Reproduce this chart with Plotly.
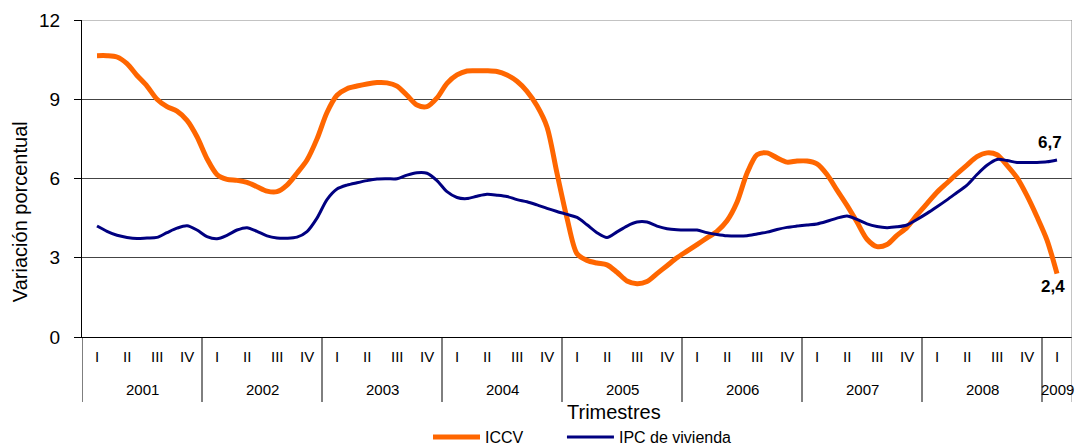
import plotly.graph_objects as go

# Monthly observations (Jan 2001 .. Jan 2009), percent
iccv = [10.65, 10.65, 10.6, 10.35, 9.9, 9.5, 9.0, 8.72, 8.55, 8.2, 7.58, 6.75,
        6.15, 5.97, 5.93, 5.85, 5.69, 5.52, 5.5, 5.75, 6.2, 6.7, 7.5, 8.5,
        9.15, 9.4, 9.5, 9.58, 9.63, 9.62, 9.5, 9.15, 8.78, 8.72, 9.05, 9.6,
        9.92, 10.07, 10.08, 10.08, 10.05, 9.92, 9.68, 9.3, 8.75, 7.95, 6.2, 4.5,
        3.15, 2.9, 2.8, 2.73, 2.45, 2.12, 2.02, 2.1, 2.4, 2.7, 3.0, 3.25,
        3.5, 3.75, 4.0, 4.4, 5.1, 6.2, 6.9, 6.97, 6.78, 6.62, 6.66, 6.66,
        6.55, 6.15, 5.56, 4.98, 4.35, 3.7, 3.42, 3.5, 3.85, 4.15, 4.62, 5.05,
        5.48, 5.83, 6.18, 6.51, 6.83, 6.97, 6.9, 6.5, 6.03, 5.35, 4.55, 3.67,
        2.4]
ipc_vivienda = [4.2, 4.0, 3.85, 3.77, 3.73, 3.75, 3.77, 3.95, 4.12, 4.21, 4.05, 3.8,
                3.72, 3.85, 4.05, 4.14, 4.0, 3.83, 3.75, 3.74, 3.78, 3.99, 4.5, 5.2,
                5.6, 5.75, 5.84, 5.92, 5.98, 5.99, 5.99, 6.13, 6.22, 6.2, 5.92, 5.5,
                5.28, 5.24, 5.33, 5.4, 5.37, 5.32, 5.2, 5.12, 5.0, 4.87, 4.75, 4.64,
                4.53, 4.25, 3.95, 3.77, 3.98, 4.2, 4.35, 4.35, 4.2, 4.1, 4.06, 4.05,
                4.05, 3.95, 3.88, 3.83, 3.82, 3.83, 3.9, 3.97, 4.07, 4.15, 4.2, 4.24,
                4.28, 4.38, 4.5, 4.58, 4.45, 4.28, 4.18, 4.14, 4.17, 4.24, 4.45, 4.68,
                4.93, 5.19, 5.47, 5.75, 6.15, 6.5, 6.72, 6.68, 6.61, 6.61, 6.61, 6.63,
                6.7]
quarters = ["I", "II", "III", "IV"]
years = ["2001", "2002", "2003", "2004", "2005", "2006", "2007", "2008", "2009"]
y_ticks = [0, 3, 6, 9, 12]
end_labels = {"ICCV": "2,4", "IPC de vivienda": "6,7"}

FONT = "Liberation Sans, Arial, sans-serif"
n = len(iccv)
xs = list(range(n))
n_quarters = (n - 1) // 3 + 1
x_min, x_max = -1.5, 3 * n_quarters - 1.5

fig = go.Figure()
fig.add_trace(go.Scatter(x=xs, y=iccv, name="ICCV", mode="lines", legend="legend",
                         line=dict(color="#FF6600", width=5, shape="spline", smoothing=0.8)))
fig.add_trace(go.Scatter(x=xs, y=ipc_vivienda, name="IPC de vivienda", mode="lines",
                         legend="legend2",
                         line=dict(color="#000080", width=3, shape="spline", smoothing=0.8)))

annotations = []
shapes = []
# quarter labels
for q in range(n_quarters):
    annotations.append(dict(x=3 * q, y=-0.063, xref="x", yref="paper", text=quarters[q % 4],
                            showarrow=False, font=dict(family=FONT, size=15, color="#000"),
                            xanchor="center", yanchor="middle"))
# year labels and separators
for k, yr in enumerate(years):
    q0 = 4 * k
    q1 = min(4 * k + 3, n_quarters - 1)
    annotations.append(dict(x=1.5 * (q0 + q1), y=-0.167, xref="x", yref="paper", text=yr,
                            showarrow=False, font=dict(family=FONT, size=15, color="#000"),
                            xanchor="center", yanchor="middle"))
    shapes.append(dict(type="line", xref="x", yref="paper", x0=12 * k - 1.5, x1=12 * k - 1.5,
                       y0=0, y1=-0.205, line=dict(color="#000", width=1)))
shapes.append(dict(type="line", xref="x", yref="paper", x0=x_max, x1=x_max,
                   y0=-0.205, y1=1, line=dict(color="#888", width=1)))
shapes.append(dict(type="line", xref="paper", yref="y", x0=0, x1=1,
                   y0=y_ticks[-1], y1=y_ticks[-1], line=dict(color="#888", width=1)))

annotations.append(dict(x=0.537, y=-0.237, xref="paper", yref="paper", text="Trimestres",
                        showarrow=False, font=dict(family=FONT, size=20, color="#000"),
                        xanchor="center", yanchor="middle"))
annotations.append(dict(x=-0.0626, y=0.394, xref="paper", yref="paper",
                        text="Variación porcentual", textangle=-90, showarrow=False,
                        font=dict(family=FONT, size=20, color="#000"),
                        xanchor="center", yanchor="middle"))
# end value labels
annotations.append(dict(x=xs[-1], y=ipc_vivienda[-1], xref="x", yref="y",
                        text="<b>" + end_labels["IPC de vivienda"] + "</b>", showarrow=False,
                        font=dict(family=FONT, size=17, color="#000"),
                        xanchor="center", yanchor="bottom", yshift=6, xshift=-7))
annotations.append(dict(x=xs[-1], y=iccv[-1], xref="x", yref="y",
                        text="<b>" + end_labels["ICCV"] + "</b>", showarrow=False,
                        font=dict(family=FONT, size=17, color="#000"),
                        xanchor="center", yanchor="top", yshift=-1, xshift=-4))

legend_common = dict(orientation="h", xanchor="left", y=-0.262, yanchor="top",
                     font=dict(family=FONT, size=16, color="#000"), itemwidth=47,
                     bgcolor="rgba(0,0,0,0)")

fig.update_layout(
    width=1075, height=446,
    margin=dict(l=82, r=3, t=20, b=109, autoexpand=False),
    paper_bgcolor="white", plot_bgcolor="white",
    font=dict(family=FONT, color="#000"),
    showlegend=True,
    legend=dict(x=0.3495, **legend_common),
    legend2=dict(x=0.4848, **legend_common),
    xaxis=dict(range=[x_min, x_max], showticklabels=False, showgrid=False, zeroline=False,
               showline=True, linecolor="#000", linewidth=1, ticks=""),
    yaxis=dict(range=[0, 12], tickvals=y_ticks, ticktext=[str(v) for v in y_ticks],
               showgrid=True, gridcolor="#444", gridwidth=1, zeroline=False,
               showline=True, linecolor="#000", linewidth=1, ticks="outside", ticklen=7,
               tickcolor="#000", tickfont=dict(family=FONT, size=19, color="#000"),
               ticklabelstandoff=10, automargin=False),
    annotations=annotations,
    shapes=shapes,
)

fig.write_html("out.html", config={"displayModeBar": False},
               post_script="document.body.style.margin='0';")
